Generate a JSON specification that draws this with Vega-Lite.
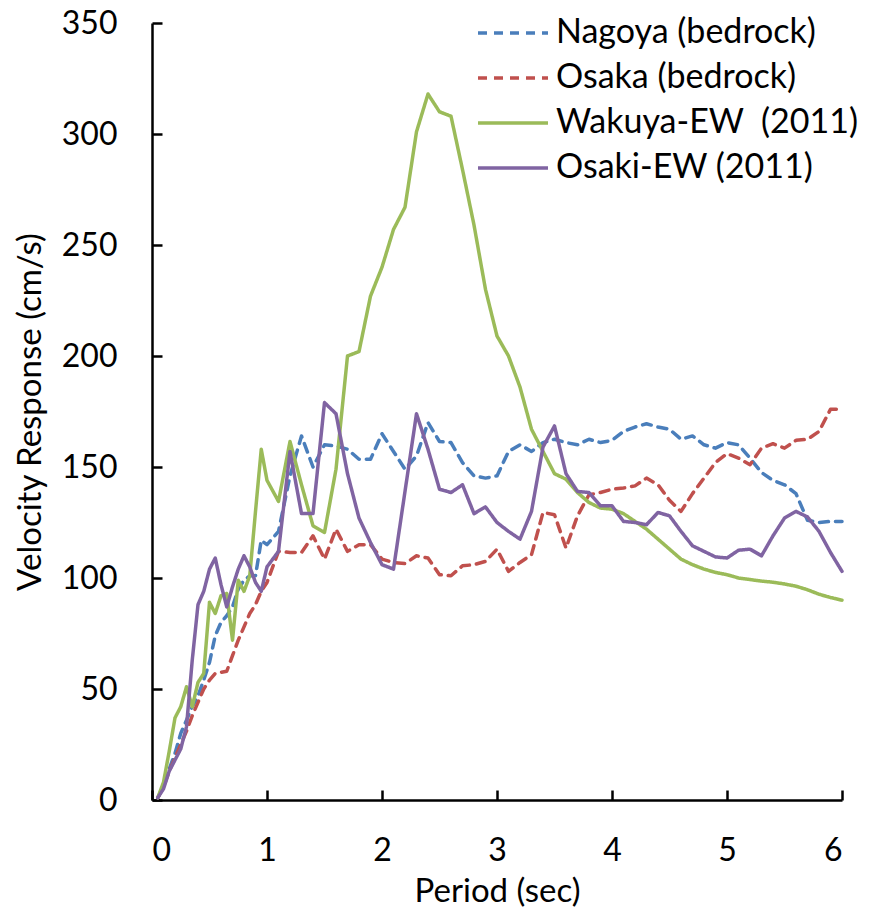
{
  "$schema": "https://vega.github.io/schema/vega-lite/v6.json",
  "width": 690,
  "height": 777,
  "autosize": {"type": "none"},
  "padding": {"left": 152, "top": 23, "right": 27, "bottom": 107},
  "background": "white",
  "config": {
    "view": {"stroke": null},
    "font": "Lato",
    "axis": {
      "grid": false,
      "domainColor": "black",
      "domainWidth": 2.5,
      "tickColor": "black",
      "tickWidth": 2.5,
      "tickSize": -10,
      "labelFontSize": 32,
      "labelColor": "black",
      "labelPadding": 45,
      "titleFontSize": 33,
      "titleFontWeight": "normal",
      "titleColor": "black"
    }
  },
  "datasets": {
    "d": [
      {"s":"Nagoya (bedrock)","p":0.05,"v":1},{"s":"Nagoya (bedrock)","p":0.1,"v":6},{"s":"Nagoya (bedrock)","p":0.15,"v":14},{"s":"Nagoya (bedrock)","p":0.2,"v":21},{"s":"Nagoya (bedrock)","p":0.25,"v":30},{"s":"Nagoya (bedrock)","p":0.3,"v":36},{"s":"Nagoya (bedrock)","p":0.35,"v":42},{"s":"Nagoya (bedrock)","p":0.4,"v":47},{"s":"Nagoya (bedrock)","p":0.45,"v":54},{"s":"Nagoya (bedrock)","p":0.5,"v":62},{"s":"Nagoya (bedrock)","p":0.55,"v":74},{"s":"Nagoya (bedrock)","p":0.6,"v":80},{"s":"Nagoya (bedrock)","p":0.65,"v":83},{"s":"Nagoya (bedrock)","p":0.7,"v":87},{"s":"Nagoya (bedrock)","p":0.75,"v":95},{"s":"Nagoya (bedrock)","p":0.8,"v":99},{"s":"Nagoya (bedrock)","p":0.85,"v":101},{"s":"Nagoya (bedrock)","p":0.9,"v":101},{"s":"Nagoya (bedrock)","p":0.95,"v":117},{"s":"Nagoya (bedrock)","p":1.0,"v":115},
      {"s":"Nagoya (bedrock)","p":1.1,"v":121},{"s":"Nagoya (bedrock)","p":1.2,"v":146},{"s":"Nagoya (bedrock)","p":1.3,"v":164},{"s":"Nagoya (bedrock)","p":1.4,"v":150},{"s":"Nagoya (bedrock)","p":1.5,"v":160},{"s":"Nagoya (bedrock)","p":1.6,"v":159.5},{"s":"Nagoya (bedrock)","p":1.7,"v":158},{"s":"Nagoya (bedrock)","p":1.8,"v":153.5},{"s":"Nagoya (bedrock)","p":1.9,"v":153.5},{"s":"Nagoya (bedrock)","p":2.0,"v":165},
      {"s":"Nagoya (bedrock)","p":2.1,"v":157},{"s":"Nagoya (bedrock)","p":2.2,"v":149},{"s":"Nagoya (bedrock)","p":2.3,"v":155},{"s":"Nagoya (bedrock)","p":2.4,"v":170},{"s":"Nagoya (bedrock)","p":2.5,"v":161.5},{"s":"Nagoya (bedrock)","p":2.6,"v":161},{"s":"Nagoya (bedrock)","p":2.7,"v":152},{"s":"Nagoya (bedrock)","p":2.8,"v":146},{"s":"Nagoya (bedrock)","p":2.9,"v":145},{"s":"Nagoya (bedrock)","p":3.0,"v":146},
      {"s":"Nagoya (bedrock)","p":3.1,"v":157},{"s":"Nagoya (bedrock)","p":3.2,"v":160},{"s":"Nagoya (bedrock)","p":3.3,"v":157},{"s":"Nagoya (bedrock)","p":3.4,"v":161},{"s":"Nagoya (bedrock)","p":3.5,"v":162.5},{"s":"Nagoya (bedrock)","p":3.6,"v":161},{"s":"Nagoya (bedrock)","p":3.7,"v":160},{"s":"Nagoya (bedrock)","p":3.8,"v":162.5},{"s":"Nagoya (bedrock)","p":3.9,"v":161},{"s":"Nagoya (bedrock)","p":4.0,"v":162},
      {"s":"Nagoya (bedrock)","p":4.1,"v":166},{"s":"Nagoya (bedrock)","p":4.2,"v":168},{"s":"Nagoya (bedrock)","p":4.3,"v":169.5},{"s":"Nagoya (bedrock)","p":4.4,"v":168},{"s":"Nagoya (bedrock)","p":4.5,"v":167},{"s":"Nagoya (bedrock)","p":4.6,"v":162.5},{"s":"Nagoya (bedrock)","p":4.7,"v":164},{"s":"Nagoya (bedrock)","p":4.8,"v":160},{"s":"Nagoya (bedrock)","p":4.9,"v":158.5},{"s":"Nagoya (bedrock)","p":5.0,"v":161},
      {"s":"Nagoya (bedrock)","p":5.1,"v":160},{"s":"Nagoya (bedrock)","p":5.2,"v":154},{"s":"Nagoya (bedrock)","p":5.3,"v":147.5},{"s":"Nagoya (bedrock)","p":5.4,"v":144},{"s":"Nagoya (bedrock)","p":5.5,"v":142},{"s":"Nagoya (bedrock)","p":5.6,"v":138},{"s":"Nagoya (bedrock)","p":5.7,"v":126},{"s":"Nagoya (bedrock)","p":5.8,"v":125},{"s":"Nagoya (bedrock)","p":5.9,"v":125.5},{"s":"Nagoya (bedrock)","p":6.0,"v":125.5},

      {"s":"Osaka (bedrock)","p":0.05,"v":1},{"s":"Osaka (bedrock)","p":0.1,"v":6},{"s":"Osaka (bedrock)","p":0.15,"v":13},{"s":"Osaka (bedrock)","p":0.2,"v":19},{"s":"Osaka (bedrock)","p":0.25,"v":25},{"s":"Osaka (bedrock)","p":0.3,"v":31},{"s":"Osaka (bedrock)","p":0.35,"v":38},{"s":"Osaka (bedrock)","p":0.4,"v":44},{"s":"Osaka (bedrock)","p":0.45,"v":50},{"s":"Osaka (bedrock)","p":0.5,"v":54},{"s":"Osaka (bedrock)","p":0.55,"v":57},{"s":"Osaka (bedrock)","p":0.6,"v":57.5},{"s":"Osaka (bedrock)","p":0.65,"v":58},{"s":"Osaka (bedrock)","p":0.7,"v":65},{"s":"Osaka (bedrock)","p":0.75,"v":72},{"s":"Osaka (bedrock)","p":0.8,"v":78},{"s":"Osaka (bedrock)","p":0.85,"v":84},{"s":"Osaka (bedrock)","p":0.9,"v":88},{"s":"Osaka (bedrock)","p":0.95,"v":94},{"s":"Osaka (bedrock)","p":1.0,"v":98},
      {"s":"Osaka (bedrock)","p":1.1,"v":112},{"s":"Osaka (bedrock)","p":1.2,"v":111.5},{"s":"Osaka (bedrock)","p":1.3,"v":111.5},{"s":"Osaka (bedrock)","p":1.4,"v":119},{"s":"Osaka (bedrock)","p":1.5,"v":108.5},{"s":"Osaka (bedrock)","p":1.6,"v":122},{"s":"Osaka (bedrock)","p":1.7,"v":112},{"s":"Osaka (bedrock)","p":1.8,"v":115},{"s":"Osaka (bedrock)","p":1.9,"v":115},{"s":"Osaka (bedrock)","p":2.0,"v":108.5},
      {"s":"Osaka (bedrock)","p":2.1,"v":107},{"s":"Osaka (bedrock)","p":2.2,"v":106.5},{"s":"Osaka (bedrock)","p":2.3,"v":110},{"s":"Osaka (bedrock)","p":2.4,"v":109},{"s":"Osaka (bedrock)","p":2.5,"v":101.5},{"s":"Osaka (bedrock)","p":2.6,"v":101},{"s":"Osaka (bedrock)","p":2.7,"v":105.5},{"s":"Osaka (bedrock)","p":2.8,"v":106},{"s":"Osaka (bedrock)","p":2.9,"v":107.5},{"s":"Osaka (bedrock)","p":3.0,"v":113},
      {"s":"Osaka (bedrock)","p":3.1,"v":103},{"s":"Osaka (bedrock)","p":3.2,"v":107},{"s":"Osaka (bedrock)","p":3.3,"v":110.5},{"s":"Osaka (bedrock)","p":3.4,"v":129.5},{"s":"Osaka (bedrock)","p":3.5,"v":128.5},{"s":"Osaka (bedrock)","p":3.6,"v":113.5},{"s":"Osaka (bedrock)","p":3.7,"v":128},{"s":"Osaka (bedrock)","p":3.8,"v":137.5},{"s":"Osaka (bedrock)","p":3.9,"v":138.5},{"s":"Osaka (bedrock)","p":4.0,"v":140},
      {"s":"Osaka (bedrock)","p":4.1,"v":140.5},{"s":"Osaka (bedrock)","p":4.2,"v":141.5},{"s":"Osaka (bedrock)","p":4.3,"v":145},{"s":"Osaka (bedrock)","p":4.4,"v":142},{"s":"Osaka (bedrock)","p":4.5,"v":135},{"s":"Osaka (bedrock)","p":4.6,"v":130},{"s":"Osaka (bedrock)","p":4.7,"v":138},{"s":"Osaka (bedrock)","p":4.8,"v":145},{"s":"Osaka (bedrock)","p":4.9,"v":152},{"s":"Osaka (bedrock)","p":5.0,"v":156},
      {"s":"Osaka (bedrock)","p":5.1,"v":154},{"s":"Osaka (bedrock)","p":5.2,"v":151},{"s":"Osaka (bedrock)","p":5.3,"v":158.5},{"s":"Osaka (bedrock)","p":5.4,"v":160.5},{"s":"Osaka (bedrock)","p":5.5,"v":158.5},{"s":"Osaka (bedrock)","p":5.6,"v":162},{"s":"Osaka (bedrock)","p":5.7,"v":162.5},{"s":"Osaka (bedrock)","p":5.8,"v":166},{"s":"Osaka (bedrock)","p":5.9,"v":176},{"s":"Osaka (bedrock)","p":6.0,"v":176},

      {"s":"Wakuya-EW\u00a0 (2011)","p":0.05,"v":1},{"s":"Wakuya-EW\u00a0 (2011)","p":0.1,"v":8},{"s":"Wakuya-EW\u00a0 (2011)","p":0.15,"v":22},{"s":"Wakuya-EW\u00a0 (2011)","p":0.2,"v":37},{"s":"Wakuya-EW\u00a0 (2011)","p":0.25,"v":42},{"s":"Wakuya-EW\u00a0 (2011)","p":0.3,"v":51},{"s":"Wakuya-EW\u00a0 (2011)","p":0.35,"v":42},{"s":"Wakuya-EW\u00a0 (2011)","p":0.4,"v":53},{"s":"Wakuya-EW\u00a0 (2011)","p":0.45,"v":57},{"s":"Wakuya-EW\u00a0 (2011)","p":0.5,"v":89},{"s":"Wakuya-EW\u00a0 (2011)","p":0.55,"v":84},{"s":"Wakuya-EW\u00a0 (2011)","p":0.6,"v":92},{"s":"Wakuya-EW\u00a0 (2011)","p":0.65,"v":93},{"s":"Wakuya-EW\u00a0 (2011)","p":0.7,"v":72},{"s":"Wakuya-EW\u00a0 (2011)","p":0.75,"v":99},{"s":"Wakuya-EW\u00a0 (2011)","p":0.8,"v":94},{"s":"Wakuya-EW\u00a0 (2011)","p":0.85,"v":101},{"s":"Wakuya-EW\u00a0 (2011)","p":0.9,"v":130},{"s":"Wakuya-EW\u00a0 (2011)","p":0.95,"v":158},{"s":"Wakuya-EW\u00a0 (2011)","p":1.0,"v":144},
      {"s":"Wakuya-EW\u00a0 (2011)","p":1.1,"v":134.5},{"s":"Wakuya-EW\u00a0 (2011)","p":1.2,"v":161.5},{"s":"Wakuya-EW\u00a0 (2011)","p":1.3,"v":142},{"s":"Wakuya-EW\u00a0 (2011)","p":1.4,"v":123.5},{"s":"Wakuya-EW\u00a0 (2011)","p":1.5,"v":120.5},{"s":"Wakuya-EW\u00a0 (2011)","p":1.6,"v":149},{"s":"Wakuya-EW\u00a0 (2011)","p":1.7,"v":200},{"s":"Wakuya-EW\u00a0 (2011)","p":1.8,"v":202},{"s":"Wakuya-EW\u00a0 (2011)","p":1.9,"v":227},{"s":"Wakuya-EW\u00a0 (2011)","p":2.0,"v":240},
      {"s":"Wakuya-EW\u00a0 (2011)","p":2.1,"v":257},{"s":"Wakuya-EW\u00a0 (2011)","p":2.2,"v":267},{"s":"Wakuya-EW\u00a0 (2011)","p":2.3,"v":301},{"s":"Wakuya-EW\u00a0 (2011)","p":2.4,"v":318},{"s":"Wakuya-EW\u00a0 (2011)","p":2.5,"v":310},{"s":"Wakuya-EW\u00a0 (2011)","p":2.6,"v":308},{"s":"Wakuya-EW\u00a0 (2011)","p":2.7,"v":284},{"s":"Wakuya-EW\u00a0 (2011)","p":2.8,"v":259},{"s":"Wakuya-EW\u00a0 (2011)","p":2.9,"v":230},{"s":"Wakuya-EW\u00a0 (2011)","p":3.0,"v":209},
      {"s":"Wakuya-EW\u00a0 (2011)","p":3.1,"v":200},{"s":"Wakuya-EW\u00a0 (2011)","p":3.2,"v":186},{"s":"Wakuya-EW\u00a0 (2011)","p":3.3,"v":167},{"s":"Wakuya-EW\u00a0 (2011)","p":3.4,"v":157},{"s":"Wakuya-EW\u00a0 (2011)","p":3.5,"v":147},{"s":"Wakuya-EW\u00a0 (2011)","p":3.6,"v":144.5},{"s":"Wakuya-EW\u00a0 (2011)","p":3.7,"v":138.5},{"s":"Wakuya-EW\u00a0 (2011)","p":3.8,"v":134},{"s":"Wakuya-EW\u00a0 (2011)","p":3.9,"v":131.5},{"s":"Wakuya-EW\u00a0 (2011)","p":4.0,"v":131},
      {"s":"Wakuya-EW\u00a0 (2011)","p":4.1,"v":129},{"s":"Wakuya-EW\u00a0 (2011)","p":4.2,"v":125.5},{"s":"Wakuya-EW\u00a0 (2011)","p":4.3,"v":122},{"s":"Wakuya-EW\u00a0 (2011)","p":4.4,"v":117.5},{"s":"Wakuya-EW\u00a0 (2011)","p":4.5,"v":113},{"s":"Wakuya-EW\u00a0 (2011)","p":4.6,"v":108.5},{"s":"Wakuya-EW\u00a0 (2011)","p":4.7,"v":106},{"s":"Wakuya-EW\u00a0 (2011)","p":4.8,"v":104},{"s":"Wakuya-EW\u00a0 (2011)","p":4.9,"v":102.5},{"s":"Wakuya-EW\u00a0 (2011)","p":5.0,"v":101.5},
      {"s":"Wakuya-EW\u00a0 (2011)","p":5.1,"v":100},{"s":"Wakuya-EW\u00a0 (2011)","p":5.2,"v":99.3},{"s":"Wakuya-EW\u00a0 (2011)","p":5.3,"v":98.6},{"s":"Wakuya-EW\u00a0 (2011)","p":5.4,"v":98.1},{"s":"Wakuya-EW\u00a0 (2011)","p":5.5,"v":97.3},{"s":"Wakuya-EW\u00a0 (2011)","p":5.6,"v":96.3},{"s":"Wakuya-EW\u00a0 (2011)","p":5.7,"v":94.7},{"s":"Wakuya-EW\u00a0 (2011)","p":5.8,"v":92.7},{"s":"Wakuya-EW\u00a0 (2011)","p":5.9,"v":91.2},{"s":"Wakuya-EW\u00a0 (2011)","p":6.0,"v":90},

      {"s":"Osaki-EW (2011)","p":0.05,"v":1},{"s":"Osaki-EW (2011)","p":0.1,"v":5},{"s":"Osaki-EW (2011)","p":0.15,"v":13},{"s":"Osaki-EW (2011)","p":0.2,"v":18},{"s":"Osaki-EW (2011)","p":0.25,"v":23},{"s":"Osaki-EW (2011)","p":0.3,"v":33},{"s":"Osaki-EW (2011)","p":0.35,"v":63},{"s":"Osaki-EW (2011)","p":0.4,"v":88},{"s":"Osaki-EW (2011)","p":0.45,"v":94},{"s":"Osaki-EW (2011)","p":0.5,"v":104},{"s":"Osaki-EW (2011)","p":0.55,"v":109},{"s":"Osaki-EW (2011)","p":0.6,"v":97},{"s":"Osaki-EW (2011)","p":0.65,"v":87},{"s":"Osaki-EW (2011)","p":0.7,"v":96},{"s":"Osaki-EW (2011)","p":0.75,"v":104},{"s":"Osaki-EW (2011)","p":0.8,"v":110},{"s":"Osaki-EW (2011)","p":0.85,"v":105},{"s":"Osaki-EW (2011)","p":0.9,"v":98},{"s":"Osaki-EW (2011)","p":0.95,"v":94},{"s":"Osaki-EW (2011)","p":1.0,"v":105},
      {"s":"Osaki-EW (2011)","p":1.1,"v":112},{"s":"Osaki-EW (2011)","p":1.2,"v":157},{"s":"Osaki-EW (2011)","p":1.3,"v":129},{"s":"Osaki-EW (2011)","p":1.4,"v":129},{"s":"Osaki-EW (2011)","p":1.5,"v":179},{"s":"Osaki-EW (2011)","p":1.6,"v":174},{"s":"Osaki-EW (2011)","p":1.7,"v":147},{"s":"Osaki-EW (2011)","p":1.8,"v":127},{"s":"Osaki-EW (2011)","p":1.9,"v":116},{"s":"Osaki-EW (2011)","p":2.0,"v":106},
      {"s":"Osaki-EW (2011)","p":2.1,"v":104},{"s":"Osaki-EW (2011)","p":2.2,"v":139},{"s":"Osaki-EW (2011)","p":2.3,"v":174},{"s":"Osaki-EW (2011)","p":2.4,"v":158},{"s":"Osaki-EW (2011)","p":2.5,"v":140},{"s":"Osaki-EW (2011)","p":2.6,"v":138.5},{"s":"Osaki-EW (2011)","p":2.7,"v":142},{"s":"Osaki-EW (2011)","p":2.8,"v":129},{"s":"Osaki-EW (2011)","p":2.9,"v":132},{"s":"Osaki-EW (2011)","p":3.0,"v":125},
      {"s":"Osaki-EW (2011)","p":3.1,"v":121},{"s":"Osaki-EW (2011)","p":3.2,"v":117.5},{"s":"Osaki-EW (2011)","p":3.3,"v":130},{"s":"Osaki-EW (2011)","p":3.4,"v":159},{"s":"Osaki-EW (2011)","p":3.5,"v":168.5},{"s":"Osaki-EW (2011)","p":3.6,"v":147},{"s":"Osaki-EW (2011)","p":3.7,"v":139},{"s":"Osaki-EW (2011)","p":3.8,"v":138.5},{"s":"Osaki-EW (2011)","p":3.9,"v":132.5},{"s":"Osaki-EW (2011)","p":4.0,"v":132.5},
      {"s":"Osaki-EW (2011)","p":4.1,"v":125.5},{"s":"Osaki-EW (2011)","p":4.2,"v":125},{"s":"Osaki-EW (2011)","p":4.3,"v":124},{"s":"Osaki-EW (2011)","p":4.4,"v":129.5},{"s":"Osaki-EW (2011)","p":4.5,"v":128},{"s":"Osaki-EW (2011)","p":4.6,"v":121},{"s":"Osaki-EW (2011)","p":4.7,"v":114.5},{"s":"Osaki-EW (2011)","p":4.8,"v":112},{"s":"Osaki-EW (2011)","p":4.9,"v":109.5},{"s":"Osaki-EW (2011)","p":5.0,"v":109},
      {"s":"Osaki-EW (2011)","p":5.1,"v":112.5},{"s":"Osaki-EW (2011)","p":5.2,"v":113},{"s":"Osaki-EW (2011)","p":5.3,"v":110},{"s":"Osaki-EW (2011)","p":5.4,"v":119},{"s":"Osaki-EW (2011)","p":5.5,"v":127},{"s":"Osaki-EW (2011)","p":5.6,"v":130},{"s":"Osaki-EW (2011)","p":5.7,"v":127.5},{"s":"Osaki-EW (2011)","p":5.8,"v":121},{"s":"Osaki-EW (2011)","p":5.9,"v":111.5},{"s":"Osaki-EW (2011)","p":6.0,"v":103}
    ]
  },
  "data": {"name": "d"},
  "mark": {"type": "line", "strokeWidth": 3.5, "strokeCap": "round", "strokeJoin": "round"},
  "encoding": {
    "x": {
      "field": "p", "type": "quantitative",
      "scale": {"domain": [0, 6], "nice": false},
      "axis": {"title": "Period (sec)", "values": [0, 1, 2, 3, 4, 5, 6], "titlePadding": 9}
    },
    "y": {
      "field": "v", "type": "quantitative",
      "scale": {"domain": [0, 350], "nice": false},
      "axis": {"title": "Velocity Response (cm/s)", "values": [0, 50, 100, 150, 200, 250, 300, 350], "titlePadding": 14}
    },
    "color": {
      "field": "s", "type": "nominal",
      "scale": {
        "domain": ["Nagoya (bedrock)", "Osaka (bedrock)", "Wakuya-EW\u00a0 (2011)", "Osaki-EW (2011)"],
        "range": ["#4A7EBB", "#C0504D", "#9BBB59", "#8064A2"]
      },
      "legend": {
        "title": null, "orient": "none", "legendX": 339, "legendY": -12, "padding": 0,
        "symbolType": "M-1.75,0H1.75", "symbolSize": 1600, "symbolStrokeWidth": 3.5,
        "labelFontSize": 34, "labelColor": "black", "labelOffset": 21, "rowPadding": 6, "labelLimit": 400
      }
    },
    "strokeDash": {
      "field": "s", "type": "nominal",
      "scale": {
        "domain": ["Nagoya (bedrock)", "Osaka (bedrock)", "Wakuya-EW\u00a0 (2011)", "Osaki-EW (2011)"],
        "range": [[9, 7], [9, 7], [1, 0], [1, 0]]
      },
      "legend": {
        "title": null, "orient": "none", "legendX": 339, "legendY": -12, "padding": 0,
        "symbolType": "M-1.75,0H1.75", "symbolSize": 1600, "symbolStrokeWidth": 3.5,
        "labelFontSize": 34, "labelColor": "black", "labelOffset": 21, "rowPadding": 6, "labelLimit": 400
      }
    }
  }
}
